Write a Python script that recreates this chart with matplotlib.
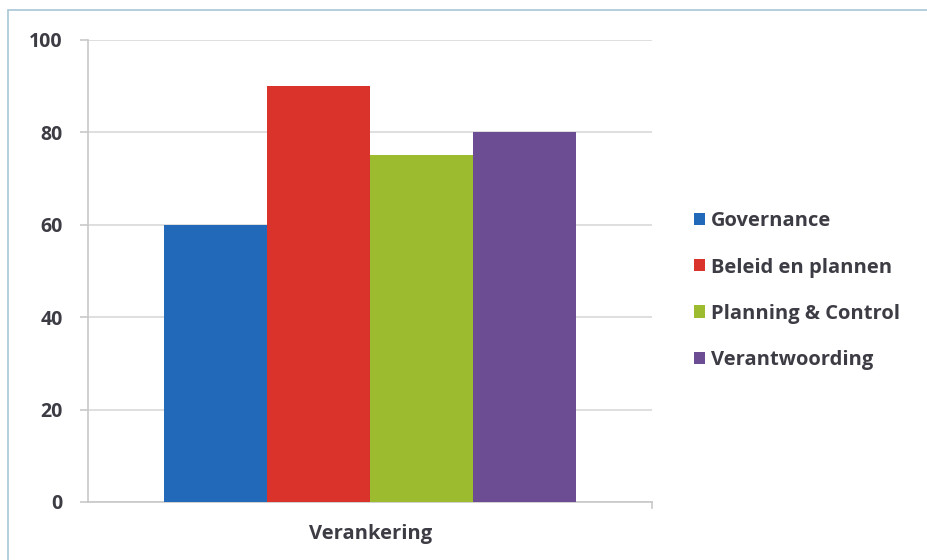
import matplotlib.pyplot as plt
from matplotlib.patches import Rectangle

category = "Verankering"
series = ["Governance", "Beleid en plannen", "Planning & Control", "Verantwoording"]
values = [60, 90, 75, 80]
colors = ["#2369ba", "#d9332c", "#9cbb2e", "#6c4d94"]
yticks = [0, 20, 40, 60, 80, 100]

plt.rcParams["font.family"] = ["Open Sans", "DejaVu Sans"]
text_color = "#3c3c44"

fig = plt.figure(figsize=(9.28, 5.6), dpi=100)
ax = fig.add_axes([0.0948, 0.1036, 0.608, 0.825])

width = 0.1826
offsets = [(i - 1.5) * width for i in range(len(series))]
for off, v, c, name in zip(offsets, values, colors, series):
    ax.bar(off, v, width=width, color=c, label=name, zorder=3)

ax.set_xlim(-0.5, 0.5)
ax.set_ylim(0, 100)
ax.set_yticks(yticks)
ax.set_xticks([0])
ax.set_xticklabels([category], fontweight="bold")
for t in ax.get_yticklabels():
    t.set_fontweight("bold")
ax.yaxis.grid(True, color="#d9d9d9", linewidth=1.2, zorder=0)

for s in ["top", "right"]:
    ax.spines[s].set_visible(False)
ax.spines["left"].set_color("#c8c8c8")
ax.spines["bottom"].set_color("#c8c8c8")
ax.spines["left"].set_linewidth(1.2)
ax.spines["bottom"].set_linewidth(1.2)
ax.tick_params(axis="y", colors="#c8c8c8", labelcolor=text_color, labelsize=14,
               length=6, width=1.2, pad=12)
ax.tick_params(axis="x", length=0, labelcolor=text_color, labelsize=14.5, pad=16)
# tick at the right end of the category axis
ax.plot([0.5, 0.5], [0, -1.4], color="#c8c8c8", lw=1.2, clip_on=False)

leg = ax.legend(loc="upper left", bbox_to_anchor=(0.728, 0.655),
                bbox_transform=fig.transFigure, frameon=False,
                prop={"size": 14.5, "weight": "bold"},
                handlelength=0.55, handleheight=0.55, handletextpad=0.3,
                labelspacing=1.3)
for t in leg.get_texts():
    t.set_color(text_color)

# light frame around the chart
fig.patches.append(Rectangle((8 / 928, -0.01), 1.0, 1 - 10 / 560 + 0.01,
                             transform=fig.transFigure, fill=False,
                             edgecolor="#a8c6d6", linewidth=1.2))

fig.savefig("out.png", dpi=100)
